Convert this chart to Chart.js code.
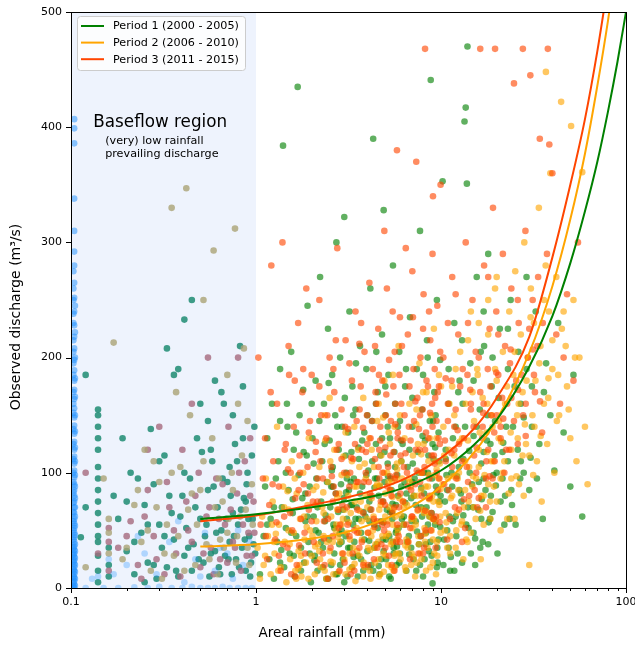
<!DOCTYPE html>
<html><head><meta charset="utf-8">
<script src="https://cdn.jsdelivr.net/npm/chart.js@4/dist/chart.umd.min.js"></script>
<style>html,body{margin:0;padding:0;background:#fff}canvas{display:block}</style>
</head><body>
<canvas id="c" width="635" height="646"></canvas>
<script>
// ---------- DATA ----------
const seriesLabels = ['Period 1 (2000 - 2005)', 'Period 2 (2006 - 2010)', 'Period 3 (2011 - 2015)'];
const xTitle = 'Areal rainfall (mm)';
const yTitle = 'Observed discharge (m³/s)';
const xTickValues = [0.1,0.2,0.3,0.4,0.5,0.6,0.7,0.8,0.9,1,2,3,4,5,6,7,8,9,10,20,30,40,50,60,70,80,90,100];
const xTickLabels = {'0.1':'0.1','1':'1','10':'10','100':'100'};
const yTickValues = [0,100,200,300,400,500];
const baseflowRange = [0.1, 1];
const baseflowTitle = 'Baseflow region';
const baseflowNotes = ['(very) low rainfall', 'prevailing discharge'];

// fitted curves: rainfall (mm) and discharge (m3/s)
const curve1Rain = [0.5,1,2,3,5,7,10,15,20,30,40,50,60,70,80,90,100];
const curve1Flow = [60,64,70,75,82,90,102,124,146,192,236,282,327,370,414,457,500];
const curve2Rain = [0.5,1,2,3,5,7,10,15,20,30,40,50,60,70,80,90];
const curve2Flow = [36,38,43,48,60,71,88,117,146,204,262,320,377,436,493,551];
const curve3Rain = [0.5,1,2,3,5,7,10,15,20,30,40,50,60,70,80];
const curve3Flow = [58,63,72,78,88,98,113,138,165,218,287,350,407,466,525];

// observations: pairs of rainfall (mm), discharge (m3/s)
const period1Obs = [
1.05,12,1.1,45,1.12,88,1.15,130,1.18,25,1.2,60,1.22,160,1.25,8,1.28,95,1.3,40,1.32,110,1.35,190,1.38,70,1.4,384,1.42,18,1.45,52,1.48,140,1.5,85,1.52,30,1.55,205,1.58,65,1.6,120,1.62,10,1.65,45,1.68,435,1.7,98,1.72,150,1.75,35,1.78,78,1.8,172,1.82,22,1.85,58,1.88,115,1.9,245,1.92,40,1.95,88,1.98,5,
2.02,130,2.05,62,2.08,28,2.1,180,2.12,95,2.15,15,2.18,48,2.2,145,2.22,270,2.25,75,2.28,110,2.3,35,2.33,160,2.36,58,2.4,8,2.42,92,2.45,225,2.48,42,2.5,128,2.52,70,2.55,20,2.58,185,2.6,105,2.62,55,2.65,30,2.68,150,2.7,82,2.72,300,2.75,12,2.78,66,2.8,120,2.82,38,2.85,200,2.88,90,2.9,50,2.92,140,2.95,25,2.98,78,3.0,322,3.02,165,3.05,45,3.08,100,3.1,60,3.12,10,3.15,135,3.18,85,3.2,240,3.22,35,3.25,72,3.28,118,3.3,18,3.32,175,3.35,55,3.38,95,3.4,40,3.45,155,
3.5,70,3.55,28,3.6,112,3.65,210,3.7,48,3.75,88,3.8,15,3.85,135,3.9,62,3.95,190,4.0,32,4.05,102,4.1,75,4.15,260,4.2,20,4.25,145,4.3,390,4.35,55,4.4,95,4.45,125,4.5,38,4.55,170,4.6,80,4.65,12,4.7,115,4.75,58,4.8,220,4.85,42,4.9,328,4.95,92,5.0,150,5.05,25,5.1,68,5.15,108,5.2,185,5.25,45,5.3,130,5.35,8,5.4,85,5.45,60,5.5,280,5.55,35,5.6,118,5.65,160,5.7,72,5.75,20,5.8,98,5.85,140,5.9,52,5.95,205,
6.0,30,6.1,88,6.2,125,6.3,62,6.4,175,6.5,15,6.6,105,6.7,45,6.8,235,6.9,78,7.0,140,7.1,25,7.2,95,7.3,58,7.4,190,7.5,118,7.6,38,7.7,310,7.8,70,7.9,155,8.0,10,8.1,82,8.2,128,8.3,48,8.4,215,8.5,100,8.6,32,8.7,145,8.8,441,8.9,65,9.0,4,9.1,112,9.2,170,9.3,55,9.4,88,9.5,250,9.6,22,9.7,135,9.8,75,9.9,198,
10.2,353,10.4,42,10.6,120,10.8,85,11.0,160,11.2,15,11.4,100,11.6,58,11.8,230,12.0,140,12.3,30,12.6,180,12.9,75,13.2,112,13.4,405,13.6,417,13.8,351,13.9,470,14.1,52,14.4,195,14.7,90,15.0,132,15.3,20,15.6,270,15.9,68,16.2,155,16.5,108,16.8,40,17.1,210,17.4,85,17.7,128,18.0,290,18.4,60,18.8,175,19.2,98,19.6,145,
20.2,30,20.8,225,21.5,118,22.2,80,23.0,190,23.8,250,24.5,140,25.3,55,26.2,205,27.0,160,28.0,100,29.0,270,30.0,85,31.0,175,32.5,240,34.0,125,35.5,60,37.0,195,39.0,150,41.0,102,43.0,230,46.0,135,50.0,88,52,185,58.0,62,
1.6,28,1.9,62,2.3,18,2.6,88,2.9,40,3.3,72,3.7,25,4.1,58,4.5,95,4.9,32,5.3,66,5.7,48,6.1,110,6.5,82,6.9,35,7.3,72,7.7,20,8.1,100,8.5,55,8.9,28,9.3,122,9.7,42,10.5,75,11.0,35,11.5,88,12.0,62,12.5,105,13.0,22,13.5,140,14.0,70,15.0,48,16.0,92,17.0,118,18.0,38,19.0,66,20.0,100,22.0,55,24.0,85,26.0,120,28.0,148,2.1,50,2.7,12,3.1,95,3.6,60,4.3,15,4.8,130,5.5,40,6.3,55,7.0,92,7.9,62,8.7,78,9.5,18,10.8,50,11.8,15,12.8,82,14.5,30,16.5,60,18.5,125,21.0,75,23.0,110,
1.25,70,1.35,22,1.45,100,1.55,48,1.65,135,1.75,15,1.85,82,1.95,30,2.05,108,2.15,70,2.25,40,2.35,125,2.45,8,2.55,88,2.65,52,2.75,140,2.85,20,2.95,68,3.05,115,3.15,35,3.25,92,3.35,150,3.45,60,3.55,10,3.65,82,3.75,128,3.85,42,3.95,98,4.05,18,4.15,68,4.25,110,4.35,35,4.45,160,4.55,52,4.65,88,4.75,25,4.85,75,4.95,118,5.05,42,5.15,140,5.25,10,5.35,95,5.45,65,5.55,30,5.65,105,5.75,50,5.85,80,5.95,22,6.15,60,6.35,92,6.55,40,6.75,120,6.95,58,7.15,80,7.35,15,7.55,100,7.75,45,7.95,132,8.15,25,8.35,70,8.55,115,8.75,40,8.95,95,9.15,60,9.35,150,9.55,35,9.75,110,9.95,80,10.3,20,10.7,98,11.1,62,11.6,130,12.1,45,12.6,85,13.1,160,13.7,55,14.3,100,14.9,70,15.6,140,16.3,35,17.0,95,17.8,150,18.6,80,19.5,115,20.5,165,21.5,95,22.5,140,23.5,60,25.0,175,27.0,110,29.0,190,31.0,140,33.0,95,36.0,170,1.15,55,1.35,145,2.0,160,3.0,5,4.0,150,5.0,175,6.0,145,7.0,165,8.0,185,9.0,125,11.0,190,13.0,215,15.0,180,17.0,240,19.0,200,23.0,225,
1.37,33,1.58,77,1.81,118,2.07,24,2.38,63,2.57,102,2.83,47,3.07,83,3.37,27,3.58,122,3.81,66,4.09,41,4.37,87,4.61,19,4.88,57,5.17,97,5.47,73,5.78,36,6.07,128,6.41,74,6.73,29,7.04,108,7.42,49,7.83,87,8.26,38,8.67,62,9.07,145,9.48,83,9.91,53,10.6,112,11.3,27,12.2,97,13.2,63,14.2,119,15.3,43,16.6,77,18.1,57,19.8,89,21.7,126,24.2,72,26.8,95,30.5,113,1.47,160,2.47,178,3.47,195,4.47,205,6.47,190,8.47,200,12.4,170,16.4,205,
0.14,155,0.14,150,0.14,120,0.14,105,0.14,95,0.14,85,0.14,75,0.14,65,0.14,55,0.14,40,0.14,28,0.14,15,0.14,5,0.113,44,0.12,185,0.16,35,0.16,20,0.16,10,0.18,60,0.2,32,0.21,100,0.22,12,0.24,48,0.25,72,0.26,22,0.27,138,0.28,90,0.29,8,0.3,55,0.31,35,0.32,115,0.33,18,0.35,65,0.36,42,0.38,190,0.38,10,0.4,80,0.41,28,0.42,52,0.44,95,0.45,15,0.46,38,0.48,130,0.5,60,0.52,22,0.53,45,0.55,85,0.56,10,0.58,110,0.6,32,0.62,70,0.63,18,0.65,50,0.67,160,0.68,28,0.7,92,0.72,40,0.74,12,0.75,65,0.77,125,0.78,25,0.8,55,0.82,210,0.84,35,0.86,78,0.88,15,0.9,100,0.92,45,0.94,22,0.96,60,0.98,140,0.99,30,0.45,250,0.33,208,0.6,180,0.25,5,0.36,185,0.57,120,0.72,105,0.88,75,0.41,233,
0.2,75,0.22,40,0.23,95,0.26,55,0.28,20,0.3,110,0.32,45,0.34,80,0.37,15,0.39,62,0.41,100,0.43,35,0.47,70,0.49,25,0.51,118,0.54,55,0.57,30,0.59,88,0.61,48,0.64,12,0.66,95,0.69,60,0.71,25,0.73,80,0.76,45,0.79,110,0.81,18,0.83,68,0.85,130,0.87,42,0.89,90,0.91,60,0.93,10,0.95,115,0.97,38,0.55,145,0.65,170,0.75,150,0.5,160,0.85,175,0.19,130,0.17,80,0.14,45,0.14,130,0.14,140,0.12,70
];
const period2Obs = [
1.02,35,1.05,8,1.08,62,1.1,20,1.13,95,1.16,45,1.2,12,1.23,75,1.26,30,1.3,140,1.33,55,1.36,18,1.4,88,1.43,40,1.46,5,1.5,68,1.53,25,1.56,110,1.6,48,1.63,15,1.66,82,1.7,32,1.73,60,1.76,10,1.8,100,1.83,42,1.86,22,1.9,72,1.93,130,1.96,50,
2.0,28,2.04,85,2.08,12,2.12,58,2.16,38,2.2,105,2.24,18,2.28,70,2.32,45,2.36,150,2.4,8,2.45,92,2.5,32,2.55,62,2.6,22,2.65,120,2.7,50,2.75,78,2.8,14,2.85,40,2.9,98,2.95,60,3.0,25,3.05,135,3.1,48,3.15,80,3.2,16,3.25,65,3.3,110,3.35,35,3.4,88,3.45,6,
3.5,52,3.56,120,3.62,28,3.68,75,3.74,42,3.8,165,3.86,18,3.92,95,3.98,60,4.04,35,4.1,130,4.16,8,4.22,78,4.28,50,4.34,105,4.4,22,4.46,88,4.52,145,4.58,40,4.64,68,4.7,12,4.76,115,4.82,58,4.88,30,4.94,180,5.0,82,5.06,45,5.12,100,5.18,20,5.24,70,5.3,125,5.36,38,5.42,92,5.48,55,5.54,15,5.6,140,5.66,62,5.72,30,5.78,108,5.84,48,5.9,210,5.96,78,
6.05,25,6.15,95,6.25,55,6.35,130,6.45,15,6.55,72,6.65,40,6.75,160,6.85,88,6.95,30,7.05,115,7.15,60,7.25,10,7.35,142,7.45,80,7.55,45,7.65,195,7.75,100,7.85,25,7.95,68,8.05,125,8.15,52,8.25,88,8.35,170,8.45,35,8.55,110,8.65,62,8.75,18,8.85,150,8.95,80,9.05,42,9.15,225,9.25,98,9.35,58,9.45,130,9.55,28,9.65,75,9.75,185,9.85,108,9.95,48,
10.3,140,10.6,65,10.9,95,11.2,30,11.5,175,11.8,115,12.1,50,12.4,85,12.7,205,13.0,130,13.3,70,13.6,160,13.9,40,14.2,105,14.5,240,14.8,88,15.1,145,15.4,60,15.7,190,16.0,120,16.4,25,16.8,165,17.2,98,17.6,135,18.0,220,18.4,75,18.8,150,19.2,110,19.6,260,20.0,180,
20.5,130,21.0,95,21.6,205,22.2,160,22.8,60,23.4,240,24.0,120,24.6,185,25.2,275,25.8,150,26.4,90,27.0,220,27.6,170,28.2,300,28.8,125,29.4,200,30.0,20,30.6,260,31.2,150,31.8,230,32.4,180,33.0,110,33.8,330,34.5,210,36.9,448,36.0,160,36.8,280,37.5,125,38.3,240,39.0,360,40.0,190,41.0,100,42.0,270,43.5,150,44.6,422,45.0,225,50.5,401,48.0,175,50.0,130,52.0,250,54.0,110,58.0,361,56.0,200,60.0,140,62,90,
1.5,50,1.75,28,2.1,72,2.35,15,2.6,40,2.9,55,3.2,30,3.5,88,3.8,10,4.2,45,4.6,25,5.0,62,5.4,18,5.8,42,6.2,75,6.6,35,7.0,52,7.4,22,7.8,85,8.2,40,8.6,98,9.0,60,9.4,12,9.8,72,10.5,50,11.0,120,11.5,80,12.0,35,12.5,100,13.0,58,13.5,85,14.0,128,15.0,70,16.0,105,17.0,55,18.0,90,19.0,140,20.0,75,22.0,110,24.0,95,26.0,130,28.0,80,30.0,115,1.25,40,1.65,8,2.2,32,2.75,68,3.05,12,3.6,48,4.0,70,4.4,35,5.2,92,5.6,28,6.4,18,6.9,60,7.6,38,8.4,66,9.2,30,10.2,90,11.2,45,12.2,65,13.2,25,14.5,48,16.5,80,18.5,60,21.0,50,25.0,60,35.0,75,
1.12,28,1.22,55,1.32,15,1.42,70,1.52,38,1.62,95,1.72,20,1.82,62,1.92,8,2.02,45,2.12,88,2.22,25,2.32,65,2.42,40,2.52,110,2.62,12,2.72,55,2.82,82,2.92,30,3.02,68,3.12,98,3.22,42,3.32,18,3.42,75,3.52,32,3.62,105,3.72,58,3.82,22,3.92,80,4.02,48,4.12,15,4.22,120,4.32,62,4.42,38,4.52,90,4.62,10,4.72,72,4.82,45,4.92,100,5.02,28,5.12,58,5.22,135,5.32,85,5.42,40,5.52,68,5.62,18,5.72,95,5.82,52,5.92,30,6.1,110,6.3,70,6.5,42,6.7,95,6.9,20,7.1,80,7.3,55,7.5,125,7.7,30,7.9,100,8.1,65,8.3,15,8.5,88,8.7,130,8.9,50,9.1,75,9.3,110,9.5,40,9.7,95,9.9,62,10.4,115,10.8,35,11.3,78,11.8,150,12.3,95,12.9,55,13.5,110,14.1,75,14.8,170,15.5,95,16.2,135,17.0,80,17.8,160,18.7,110,19.6,190,20.6,145,21.6,100,22.7,175,23.8,135,25.0,205,26.3,160,27.6,115,29.0,180,30.5,235,32.0,140,34.0,195,36.0,250,38.0,165,40.0,215,43.0,185,46.0,240,49.0,155,53.0,200,3.4,140,4.6,160,6.0,150,8.0,170,10.0,175,12.0,190,14.0,215,16.0,230,18.0,250,20.0,270,2.5,165,5.5,185,
1.28,47,1.48,84,1.69,17,1.88,53,2.09,36,2.31,83,2.53,23,2.77,44,2.97,114,3.17,57,3.41,21,3.63,67,3.87,108,4.13,33,4.39,57,4.67,89,4.91,14,5.19,47,5.47,79,5.79,103,6.08,63,6.41,37,6.77,92,7.13,27,7.47,67,7.82,116,8.22,47,8.63,77,9.03,22,9.47,103,9.96,86,10.7,57,11.6,97,12.6,127,13.7,42,14.9,97,16.3,67,17.7,118,19.3,88,21.2,127,23.2,82,25.6,97,28.4,142,31.5,98,34.6,132,38.1,182,42.3,145,47.2,210,2.37,128,4.87,148,7.37,155,11.1,160,15.8,185,
0.12,100,0.16,52,0.16,40,0.16,15,0.14,30,0.18,35,0.21,58,0.23,20,0.26,85,0.28,45,0.32,12,0.34,70,0.37,30,0.4,120,0.43,50,0.47,80,0.5,18,0.54,62,0.57,35,0.61,95,0.64,25,0.68,55,0.71,140,0.75,40,0.79,82,0.83,15,0.87,110,0.91,48,0.95,28,0.97,75,0.3,140,0.55,200,0.93,130,0.24,8,
0.2,45,0.25,62,0.29,25,0.33,92,0.36,50,0.39,10,0.42,75,0.45,40,0.49,100,0.52,30,0.56,70,0.59,12,0.63,60,0.66,90,0.7,22,0.73,68,0.77,35,0.81,100,0.85,55,0.89,28,0.93,80,0.98,48,0.45,160,0.8,200,0.26,120
];
const period3Obs = [
1.03,200,1.06,55,1.09,95,1.12,130,1.15,25,1.18,72,1.21,280,1.24,110,1.27,42,1.3,160,1.33,88,1.36,15,1.39,300,1.42,62,1.45,125,1.48,35,1.51,185,1.54,100,1.57,50,1.6,140,1.63,78,1.66,20,1.69,230,1.72,115,1.75,60,1.78,170,1.81,90,1.84,30,1.87,260,1.9,105,1.93,68,1.96,145,
2.0,185,2.05,40,2.1,118,2.15,75,2.2,250,2.25,150,2.3,95,2.35,20,2.4,130,2.45,60,2.5,200,2.55,105,2.6,45,2.65,170,2.7,82,2.75,295,2.8,125,2.85,55,2.9,155,2.95,30,3.0,100,3.05,215,3.1,70,3.15,138,3.2,88,3.25,12,3.3,180,3.35,112,3.4,50,3.45,240,
3.5,145,3.56,92,3.62,35,3.68,175,3.74,120,3.8,65,3.86,205,3.92,100,3.98,150,4.04,48,4.1,265,4.16,130,4.22,80,4.28,190,4.34,25,4.4,112,4.46,160,4.52,58,4.58,225,4.64,95,4.7,140,4.76,38,4.82,180,4.88,75,4.94,310,5.0,122,5.06,168,5.12,55,5.18,105,5.24,198,5.3,85,5.36,145,5.42,20,5.48,240,5.54,118,5.6,70,5.66,160,5.72,98,5.78,380,5.84,135,5.9,45,5.96,185,
6.05,115,6.15,210,6.25,75,6.35,150,6.45,295,6.55,100,6.65,40,6.75,175,6.85,128,6.95,62,7.05,235,7.15,145,7.25,90,7.35,370,7.45,165,7.55,30,7.65,120,7.75,200,7.85,80,7.95,155,8.05,255,8.15,105,8.25,50,8.35,180,8.2,468,8.55,130,8.65,95,8.75,215,8.85,65,8.95,160,9.05,340,9.15,115,9.25,190,9.35,35,9.45,145,9.55,245,9.65,85,9.75,175,9.85,125,9.95,350,
10.3,200,10.6,110,10.9,160,11.2,60,11.5,270,11.8,140,12.1,95,12.4,220,12.7,175,13.0,40,13.3,130,13.6,300,13.9,185,14.2,80,14.5,155,14.8,250,15.1,115,15.4,205,15.7,70,16.3,468,16.3,170,16.7,130,17.1,280,17.5,95,17.9,190,18.3,225,18.7,150,19.1,330,19.5,110,19.6,468,19.9,240,
20.4,185,21.0,140,21.6,290,22.2,210,22.8,160,23.4,120,24.0,260,24.8,438,25.5,180,26.3,230,27.7,468,27.8,150,28.6,310,29.5,200,30.4,445,31.3,250,32.2,170,33.2,210,34.2,390,35.2,135,37.8,468,37.4,290,38.5,385,40.0,360,42.0,220,44.0,160,46.0,200,48.0,255,52.0,180,55,300,
1.4,38,1.7,85,2.0,58,2.3,30,2.6,75,2.9,112,3.2,45,3.5,92,3.8,20,4.2,68,4.6,105,5.0,35,5.4,80,5.8,55,6.2,128,6.6,88,7.0,62,7.4,102,7.8,45,8.2,120,8.6,78,9.0,140,9.4,62,9.8,95,10.5,128,11.0,85,11.5,105,12.0,155,12.5,68,13.0,110,14.0,92,15.0,140,16.0,78,17.0,160,18.0,120,19.0,95,20.0,150,22.0,100,24.0,165,26.0,125,1.55,12,2.15,95,2.45,8,2.8,52,3.4,15,4.0,125,4.8,55,5.6,15,6.0,40,6.8,25,7.6,138,8.0,30,8.8,50,9.6,170,10.8,42,11.8,120,13.5,52,15.5,100,17.5,70,21,130,
1.13,45,1.23,90,1.33,28,1.43,120,1.53,65,1.63,10,1.73,100,1.83,48,1.93,135,2.03,75,2.13,22,2.23,110,2.33,58,2.43,150,2.53,35,2.63,88,2.73,120,2.83,15,2.93,72,3.03,140,3.13,55,3.23,100,3.33,30,3.43,125,3.53,68,3.63,155,3.73,40,3.83,92,3.93,118,4.03,20,4.13,82,4.23,145,4.33,60,4.43,170,4.53,35,4.63,120,4.73,75,4.83,100,4.93,50,5.03,150,5.13,88,5.23,28,5.33,115,5.43,65,5.53,175,5.63,95,5.73,40,5.83,130,5.93,70,6.1,160,6.3,105,6.5,55,6.7,140,6.9,85,7.1,190,7.3,120,7.5,68,7.7,150,7.9,100,8.1,35,8.3,135,8.5,175,8.7,80,8.9,115,9.1,60,9.3,165,9.5,100,9.7,130,9.9,205,10.4,90,10.9,145,11.4,180,11.9,70,12.5,125,13.1,190,13.8,105,14.5,160,15.2,85,16.0,200,16.8,140,17.6,110,18.5,175,19.4,135,20.4,220,21.4,165,22.5,120,23.6,195,24.8,145,26.0,250,27.3,185,28.7,160,30.0,225,31.8,185,33.5,270,35.5,230,1.2,170,1.5,210,1.8,190,2.2,175,2.7,215,3.2,195,3.7,230,4.4,210,5.1,260,6.0,235,7.0,275,8.0,225,9.0,290,12.0,255,14.0,230,18.0,270,
1.29,57,1.49,103,1.71,37,1.91,82,2.11,127,2.33,43,2.57,97,2.79,68,3.01,22,3.27,113,3.53,48,3.79,139,4.07,92,4.37,53,4.69,128,4.99,72,5.31,97,5.67,142,6.03,82,6.43,117,6.83,52,7.27,162,7.71,92,8.21,67,8.73,152,9.23,108,9.83,57,10.6,182,11.4,117,12.3,137,13.3,77,14.4,172,15.6,122,16.9,152,18.3,97,19.9,187,21.7,147,23.8,207,26.1,172,28.7,132,31.4,207,34.3,162,1.62,180,2.62,190,3.62,212,4.62,185,5.62,205,6.62,220,8.62,240,10.9,230,
0.42,347,0.35,330,0.59,293,0.52,250,0.77,312,0.17,213,0.15,95,0.16,60,0.16,48,0.16,30,0.12,18,0.19,25,0.22,72,0.24,40,0.27,15,0.3,92,0.33,55,0.36,28,0.39,105,0.43,68,0.47,20,0.5,85,0.54,38,0.58,130,0.62,12,0.66,75,0.7,48,0.74,100,0.78,22,0.82,62,0.86,208,0.9,35,0.95,90,0.31,8,0.44,150,0.64,42,0.8,160,0.25,120,
0.2,35,0.23,85,0.26,50,0.29,70,0.32,30,0.35,100,0.38,45,0.41,15,0.45,82,0.48,55,0.52,110,0.56,25,0.6,70,0.63,95,0.67,35,0.71,60,0.75,85,0.79,45,0.84,115,0.88,68,0.92,20,0.96,55,0.28,110,0.37,170,0.7,185,0.9,145
];
// baseflow (low-rainfall) observations
const baseflowObs = [
0.104,0,0.104,3,0.104,6,0.104,9,0.104,12,0.104,15,0.104,18,0.104,21,0.104,24,0.104,27,0.104,30,0.104,33,0.104,36,0.104,40,0.104,44,0.104,48,0.104,52,0.104,56,0.104,60,0.104,65,0.104,70,0.104,75,0.104,80,0.104,85,0.104,90,0.104,96,0.104,102,0.104,108,0.104,114,0.104,120,0.104,127,0.104,134,0.104,141,0.104,148,0.104,156,0.104,164,0.104,172,0.104,180,0.104,189,0.104,198,0.104,208,0.104,218,0.104,228,0.104,240,0.104,252,0.104,265,0.104,280,0.104,292,0.104,310,0.104,338,0.104,386,0.104,399,0.104,407,
0.105,2,0.105,8,0.105,14,0.105,20,0.105,26,0.105,32,0.105,38,0.105,46,0.105,54,0.105,62,0.105,70,0.105,78,0.105,88,0.105,98,0.105,110,0.105,122,0.105,136,0.105,150,0.105,166,0.105,182,0.105,200,0.105,222,0.105,245,
0.103,1,0.103,5,0.103,10,0.103,16,0.103,23,0.103,29,0.103,35,0.103,42,0.103,50,0.103,58,0.103,66,0.103,74,0.103,83,0.103,92,0.103,100,0.103,112,0.103,125,0.103,138,0.103,152,0.103,160,0.103,170,0.103,185,0.103,195,0.103,205,0.103,215,0.103,230,0.103,238,0.103,250,0.103,260,0.103,275,
0.12,0,0.15,0,0.18,0,0.22,0.5,0.26,0,0.3,1,0.35,0,0.4,0,0.45,1,0.5,0,0.55,0,0.6,0,0.66,1,0.72,0,0.8,0,0.88,0,0.95,0,
0.13,8,0.2,20,0.25,30,0.29,12,0.34,40,0.41,5,0.47,25,0.53,48,0.6,15,0.7,30,0.75,8,0.85,20,0.92,40,0.17,12,0.38,58,0.64,35,0.5,10,0.23,45,0.8,50,0.14,10,0.16,25
];

// ---------- STYLE ----------
const FONT = "'DejaVu Sans', sans-serif";
const lineColors = ['#008000', '#ffa500', '#ff4500'];
const pointColors = ['rgba(0,128,0,0.62)', 'rgba(255,165,0,0.62)', 'rgba(255,69,0,0.62)'];
const tintColors = ['rgba(30,140,115,0.85)', 'rgba(165,105,125,0.8)', 'rgba(170,162,118,0.8)'];
const R = 3.3;

const toPts = a => { const o = []; for (let i = 0; i < a.length; i += 2) o.push({x: a[i], y: a[i + 1]}); return o; };
const zip = (xs, ys) => xs.map((x, i) => ({x, y: ys[i]}));

const curveDs = (i, xs, ys) => ({
  type: 'line', label: seriesLabels[i], data: zip(xs, ys), borderColor: lineColors[i], borderWidth: 2,
  pointRadius: 0, fill: false, showLine: true, cubicInterpolationMode: 'monotone'
});
const obsDs = (i, arr) => ({
  type: 'scatter', label: seriesLabels[i] + ' obs', data: toPts(arr),
  backgroundColor: c => (c.raw && c.raw.x < baseflowRange[1]) ? tintColors[i] : pointColors[i],
  borderWidth: 0, pointRadius: R, pointHoverRadius: R
});

const decor = {
  id: 'decor',
  beforeDatasetsDraw(chart) {
    const {ctx, chartArea: a, scales: {x}} = chart;
    const x0 = x.getPixelForValue(baseflowRange[0]), x1 = x.getPixelForValue(baseflowRange[1]);
    ctx.save();
    ctx.fillStyle = 'rgba(100,149,237,0.11)';
    ctx.fillRect(x0, a.top, x1 - x0, a.bottom - a.top);
    ctx.restore();
  },
  afterDatasetsDraw(chart) {
    const {ctx, chartArea: a, scales: {x, y}} = chart;
    ctx.save();
    ctx.fillStyle = '#000';
    ctx.textBaseline = 'alphabetic';
    ctx.textAlign = 'left';
    ctx.font = '16.8px ' + FONT;
    ctx.fillText(baseflowTitle, x.getPixelForValue(0.132), y.getPixelForValue(400));
    ctx.font = '11.2px ' + FONT;
    ctx.fillText(baseflowNotes[0], x.getPixelForValue(0.153), y.getPixelForValue(385));
    ctx.fillText(baseflowNotes[1], x.getPixelForValue(0.153), y.getPixelForValue(374.5));
    ctx.strokeStyle = '#000';
    ctx.lineWidth = 1;
    ctx.strokeRect(Math.round(a.left) + 0.5, Math.round(a.top) + 0.5, Math.round(a.right - a.left), Math.round(a.bottom - a.top));
    ctx.beginPath();
    xTickValues.forEach(v => {
      const px = Math.round(x.getPixelForValue(v)) + 0.5;
      const major = xTickLabels[String(v)] !== undefined;
      ctx.moveTo(px, a.bottom); ctx.lineTo(px, a.bottom + (major ? 5 : 3));
    });
    yTickValues.forEach(v => {
      const py = Math.round(y.getPixelForValue(v)) + 0.5;
      ctx.moveTo(a.left, py); ctx.lineTo(a.left - 5, py);
    });
    ctx.stroke();
    ctx.fillStyle = '#000';
    ctx.textAlign = 'center';
    ctx.textBaseline = 'middle';
    ctx.font = '13.5px ' + FONT;
    ctx.fillText(xTitle, 322, 633);
    ctx.save();
    ctx.translate(16, 317);
    ctx.rotate(-Math.PI / 2);
    ctx.font = '14px ' + FONT;
    ctx.fillText(yTitle, 0, 0);
    ctx.restore();
    ctx.textAlign = 'left';
    const lx = 77.5, ly = 16.5, lw = 168, lh = 54;
    ctx.fillStyle = 'rgba(255,255,255,0.85)';
    ctx.strokeStyle = '#cccccc';
    ctx.lineWidth = 1;
    ctx.beginPath();
    ctx.roundRect(lx, ly, lw, lh, 3);
    ctx.fill(); ctx.stroke();
    ctx.font = '11.2px ' + FONT;
    ctx.textBaseline = 'middle';
    seriesLabels.forEach((lab, i) => {
      const yy = 26 + i * 16.6;
      ctx.strokeStyle = lineColors[i]; ctx.lineWidth = 2;
      ctx.beginPath(); ctx.moveTo(81, yy); ctx.lineTo(104, yy); ctx.stroke();
      ctx.fillStyle = '#000';
      ctx.fillText(lab, 113, yy + 0.5);
    });
    ctx.restore();
  }
};

new Chart(document.getElementById('c'), {
  type: 'scatter',
  data: {
    datasets: [
      curveDs(0, curve1Rain, curve1Flow),
      curveDs(1, curve2Rain, curve2Flow),
      curveDs(2, curve3Rain, curve3Flow),
      {type: 'scatter', label: 'Baseflow', data: toPts(baseflowObs),
       backgroundColor: c => (c.raw && c.raw.x < 0.11) ? 'rgba(30,144,255,0.5)' : 'rgba(30,144,255,0.3)',
       borderWidth: 0, pointRadius: R},
      obsDs(2, period3Obs),
      obsDs(1, period2Obs),
      obsDs(0, period1Obs)
    ]
  },
  options: {
    responsive: false, animation: false, devicePixelRatio: 1, events: [],
    layout: {padding: {left: 0, top: 12, right: 9, bottom: 0}},
    plugins: {legend: {display: false}, tooltip: {enabled: false}},
    scales: {
      x: {
        type: 'logarithmic', min: 0.1, max: 100,
        grid: {display: false, drawTicks: false}, border: {display: false},
        afterBuildTicks: s => { s.ticks = xTickValues.map(v => ({value: v})); },
        ticks: {autoSkip: false, maxRotation: 0, minRotation: 0, padding: 8, color: '#000',
          font: {family: FONT, size: 11}, callback: v => xTickLabels[String(v)] || ''},
        title: {display: false},
        afterFit: s => { s.height = 58; s.paddingLeft = 0; s.paddingRight = 0; }
      },
      y: {
        min: 0, max: 500,
        grid: {display: false, drawTicks: false}, border: {display: false},
        afterBuildTicks: s => { s.ticks = yTickValues.map(v => ({value: v})); },
        ticks: {padding: 9, color: '#000', font: {family: FONT, size: 11}, callback: v => String(v)},
        title: {display: false},
        afterFit: s => { s.width = 71; s.paddingTop = 0; s.paddingBottom = 0; }
      }
    }
  },
  plugins: [decor]
});
</script>
</body></html>
